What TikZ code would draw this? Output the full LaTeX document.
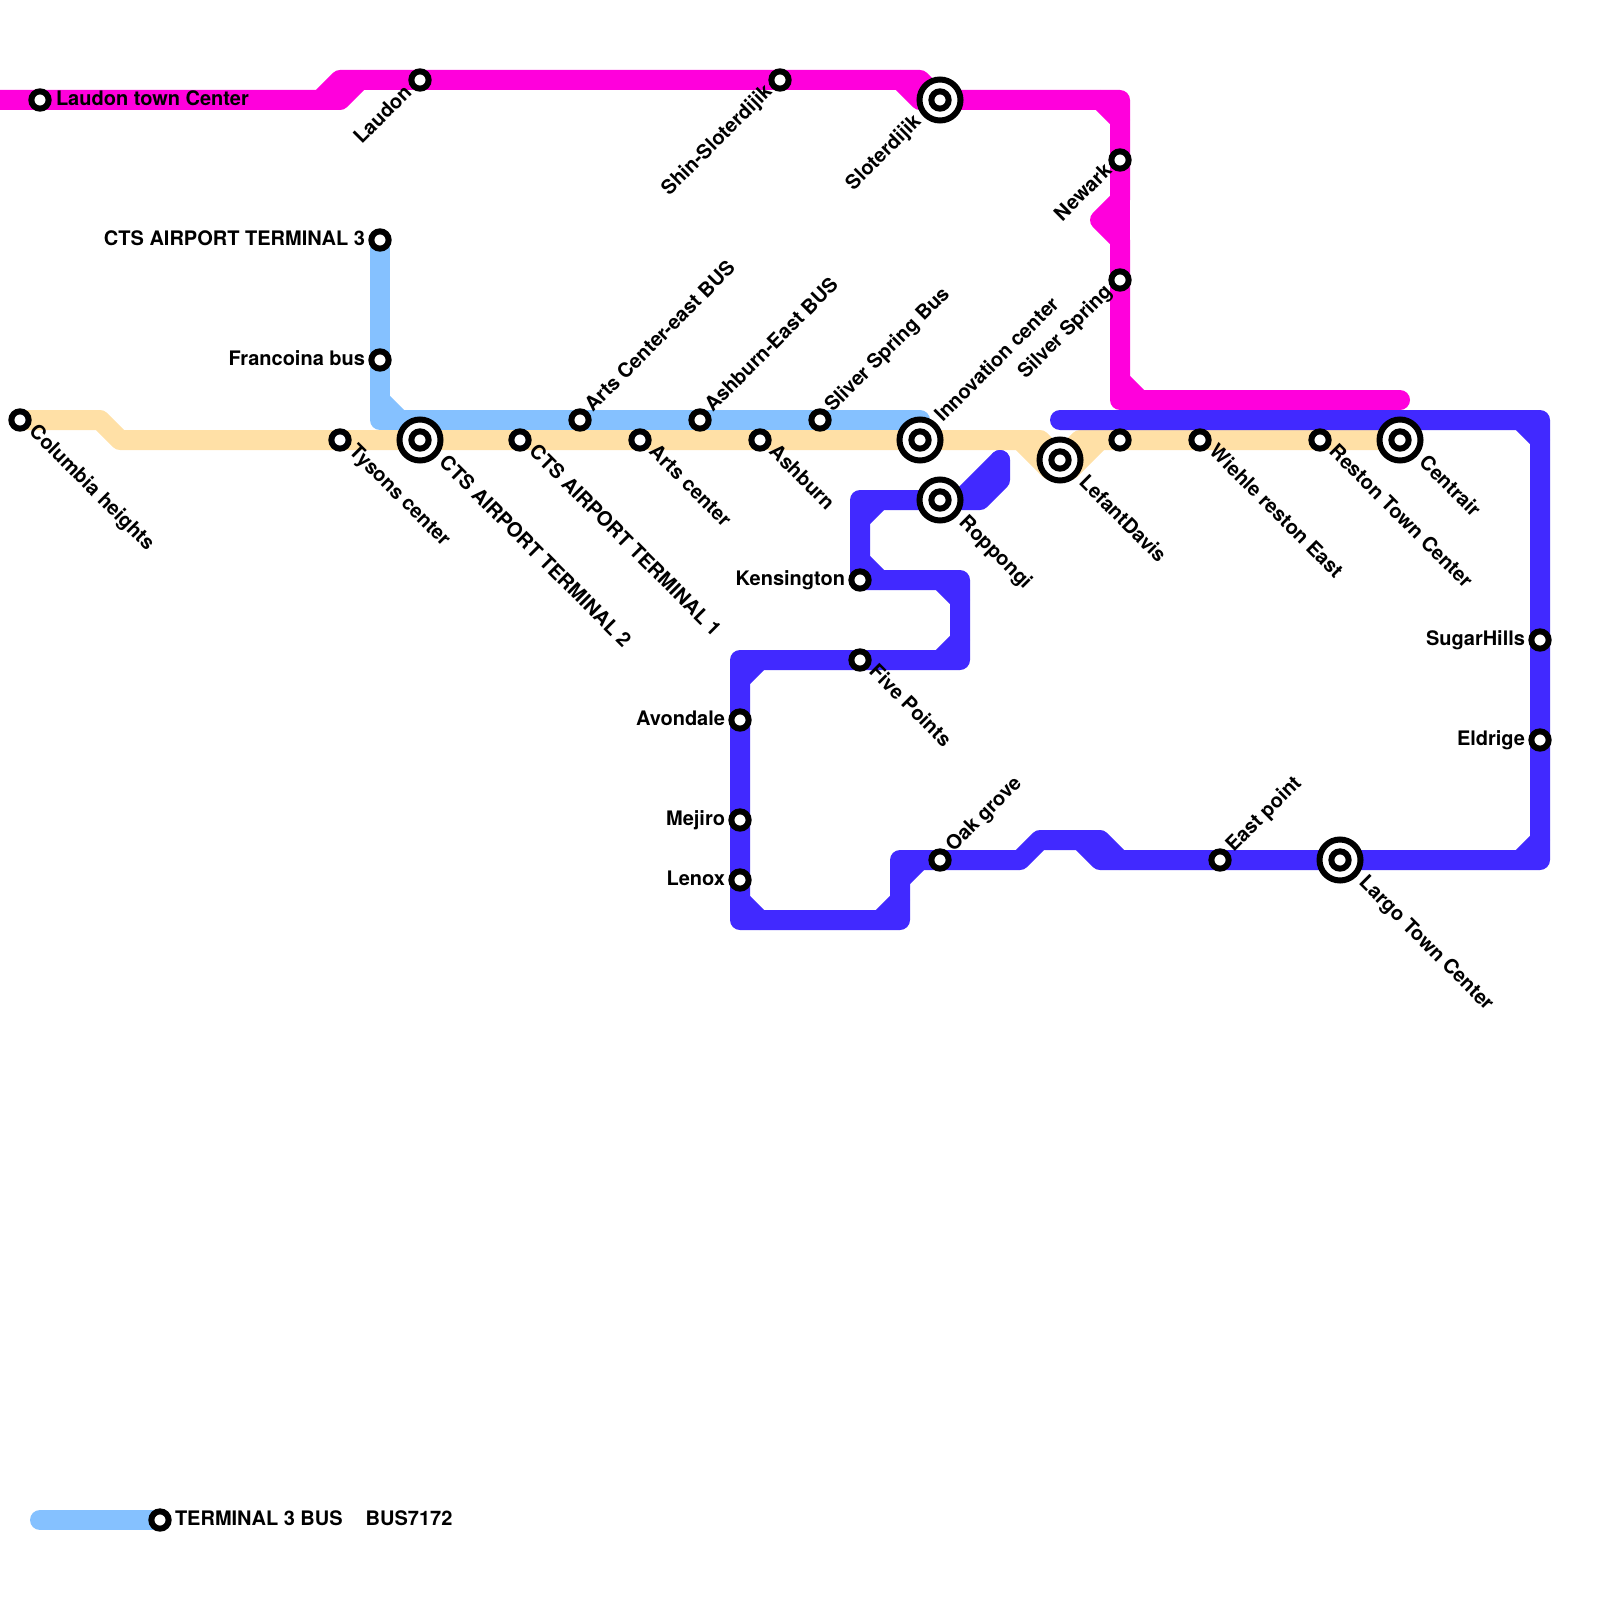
\documentclass[tikz,border=0pt]{standalone}
\usepackage{fontspec}
\setmainfont{TeX Gyre Heros}
\usetikzlibrary{calc}
\pgfdeclarelayer{lines}
\pgfsetlayers{lines,main}
\definecolor{cMag}{HTML}{FF00DC}
\definecolor{cBlue}{HTML}{4129FF}
\definecolor{cSky}{HTML}{85C1FF}
\definecolor{cSand}{HTML}{FFE0A6}
\tikzset{
  x=1pt,y=-1pt,
  metro/.style={line width=20pt,line cap=round,line join=round},
  stop/.style={circle,draw=black,fill=white,line width=6pt,minimum size=17.3pt,inner sep=0pt,outer sep=0pt},
  hub/.style={circle,draw=black,fill=white,line width=6pt,minimum size=41pt,inner sep=0pt,outer sep=0pt},
  lbl/.style={font=\fontsize{20}{20}\selectfont\bfseries,inner sep=0pt,outer sep=0pt,text=black},
  lR/.style={lbl,anchor=mid west},
  lL/.style={lbl,anchor=mid east},
  lDR/.style={lbl,anchor=mid west,rotate=-45},
  lUR/.style={lbl,anchor=mid west,rotate=45},
  lDL/.style={lbl,anchor=mid east,rotate=45},
}
\begin{document}
\begin{tikzpicture}
\useasboundingbox (0,0) rectangle (1600,1600);
% stations
\node[stop] (lt) at (40,100) {};
\node[stop] (lau) at (420,80) {};
\node[stop] (shin) at (780,80) {};
\node[hub] (slo) at (940,100) {}; \node[stop] (sloi) at (slo) {};
\node[stop] (new) at (1120,160) {};
\node[stop] (sil) at (1120,280) {};
\node[stop] (t3) at (380,240) {};
\node[stop] (fra) at (380,360) {};
\node[stop] (col) at (20,420) {};
\node[stop] (tys) at (340,440) {};
\node[hub] (t2) at (420,440) {}; \node[stop] (t2i) at (t2) {};
\node[stop] (t1) at (520,440) {};
\node[stop] (aeb) at (580,420) {};
\node[stop] (art) at (640,440) {};
\node[stop] (aeb2) at (700,420) {};
\node[stop] (ash) at (760,440) {};
\node[stop] (ssb) at (820,420) {};
\node[hub] (inn) at (920,440) {}; \node[stop] (inni) at (inn) {};
\node[hub] (lef) at (1060,460) {}; \node[stop] (lefi) at (lef) {};
\node[stop] (unn) at (1120,440) {};
\node[stop] (wie) at (1200,440) {};
\node[stop] (res) at (1320,440) {};
\node[hub] (cen) at (1400,440) {}; \node[stop] (ceni) at (cen) {};
\node[hub] (rop) at (940,500) {}; \node[stop] (ropi) at (rop) {};
\node[stop] (ken) at (860,580) {};
\node[stop] (fiv) at (860,660) {};
\node[stop] (avo) at (740,720) {};
\node[stop] (mej) at (740,820) {};
\node[stop] (len) at (740,880) {};
\node[stop] (oak) at (940,860) {};
\node[stop] (eas) at (1220,860) {};
\node[hub] (lar) at (1340,860) {}; \node[stop] (lari) at (lar) {};
\node[stop] (sug) at (1540,640) {};
\node[stop] (eld) at (1540,740) {};
\node[stop] (bus) at (160,1520) {};
% labels
\node[lR] (Llt) at (56,103) {Laudon town Center};
\node[lDL] (Llau) at (411,92) {Laudon};
\node[lDL] (Lshin) at (771,91) {Shin-Sloterdijik};
\node[lDL] (Lslo) at (920,121) {Sloterdijik};
\node[lDL] (Lnew) at (1111,170) {Newark};
\node[lDL] (Lsil) at (1111,291) {Silver Spring};
\node[lL] (Lt3) at (365,243) {CTS AIRPORT TERMINAL 3};
\node[lL] (Lfra) at (365,363) {Francoina bus};
\node[lDR] (Lcol) at (30,431) {Columbia heights};
\node[lDR] (Ltys) at (350,451) {Tysons center};
\node[lDR] (Lt2) at (440,462) {CTS AIRPORT TERMINAL 2};
\node[lDR] (Lt1) at (530,451) {CTS AIRPORT TERMINAL 1};
\node[lUR] (Laeb) at (591,411) {Arts Center-east BUS};
\node[lDR] (Lart) at (650,451) {Arts center};
\node[lUR] (Laeb2) at (711,411) {Ashburn-East BUS};
\node[lDR] (Lash) at (770,451) {Ashburn};
\node[lUR] (Lssb) at (831,411) {Sliver Spring Bus};
\node[lUR] (Linn) at (941,421) {Innovation center};
\node[lDR] (Llef) at (1080,482) {LefantDavis};
\node[lDR] (Lwie) at (1210,451) {Wiehle reston East};
\node[lDR] (Lres) at (1330,451) {Reston Town Center};
\node[lDR] (Lcen) at (1420,462) {Centrair};
\node[lDR] (Lrop) at (960,522) {Roppongi};
\node[lL] (Lken) at (845,583) {Kensington};
\node[lDR] (Lfiv) at (870,671) {Five Points};
\node[lL] (Lavo) at (725,723) {Avondale};
\node[lL] (Lmej) at (725,823) {Mejiro};
\node[lL] (Llen) at (725,883) {Lenox};
\node[lUR] (Loak) at (952,851) {Oak grove};
\node[lUR] (Leas) at (1232,851) {East point};
\node[lDR] (Llar) at (1360,882) {Largo Town Center};
\node[lL] (Lsug) at (1525,643) {SugarHills};
\node[lL] (Leld) at (1525,743) {Eldrige};
\node[lR] (Lbus) at (175,1523) {TERMINAL 3 BUS\hspace{23pt}BUS7172};
% way points
\foreach \n/\p in {
 m0/{0,100},m1/{320,100},m1b/{340,100},m2/{340,80},m2b/{360,80},m3/{900,80},m3b/{920,80},m4/{920,100},m4b/{940,100},
 m5/{1120,100},m5a/{1100,100},m5b/{1120,120},m6/{1120,200},m7/{1100,220},m8/{1120,240},m9/{1120,400},m9a/{1120,380},m9b/{1140,400},m10/{1400,400},
 s0/{380,400},s1/{380,420},s1b/{400,420},s2/{920,420},sb0/{40,1520},
 y1/{100,420},y2/{120,440},y3/{1040,440},y3a/{1020,440},y3b/{1050,470},y4/{1080,440},y4a/{1100,440},y4b/{1070,470},
 b0/{1000,460},b1/{1000,480},b2/{980,500},b2a/{960,500},b3/{860,500},b3a/{880,500},b3b/{860,520},b3c/{860,560},b3d/{880,580},
 b4/{960,580},b4a/{940,580},b4b/{960,600},b5/{960,660},b5a/{960,640},b5b/{940,660},
 b6/{740,660},b6a/{760,660},b6b/{740,680},b7/{740,920},b7a/{740,900},b7b/{760,920},b8/{900,920},b8a/{880,920},b8b/{900,900},
 b9/{900,860},b9a/{900,880},b9b/{920,860},b10/{1020,860},b11/{1040,840},b12/{1100,840},b12a/{1080,840},b13/{1120,860},b13a/{1100,860},
 b14/{1540,860},b14a/{1520,860},b14b/{1540,840},b15/{1540,420},b15a/{1540,440},b15b/{1520,420},b16/{1060,420}}
 {\coordinate (\n) at (\p);}
\begin{pgfonlayer}{lines}
% sand line
\draw[metro,cSand] (col.center)--(y1)--(y2)--(tys.center)--(t2.center)--(t1.center)--(art.center)--(ash.center)--(inn.center)--(y3)--(lef.center)--(y4)--(unn.center)--(wie.center)--(res.center)--(cen.center);
\draw[metro,cSand] (y3a)--(y3b);
\draw[metro,cSand] (y4a)--(y4b);
% sky line
\draw[metro,cSky] (t3.center)--(fra.center)--(s1)--(aeb.center)--(aeb2.center)--(ssb.center)--(s2);
\draw[metro,cSky] (s0)--(s1b);
\draw[metro,cSky] (sb0)--(bus.center);
% magenta line
\draw[metro,cMag] (m0)--(lt.center)--(m1)--(m2)--(lau.center)--(shin.center)--(m3)--(m4)--(slo.center)--(m5)--(new.center)--(m6)--(m7)--(m8)--(sil.center)--(m9)--(m10);
\draw[metro,cMag] (m1)--(m1b)--(m2b);
\draw[metro,cMag] (m3)--(m3b)--(m4b);
\draw[metro,cMag] (m6)--(m8);
\draw[metro,cMag] (m5a)--(m5b);
\draw[metro,cMag] (m9a)--(m9b);
% blue line
\draw[metro,cBlue] (b0)--(b1)--(b2)--(rop.center)--(b3)--(ken.center)--(b4)--(b5)--(fiv.center)--(b6)--(avo.center)--(mej.center)--(len.center)--(b7)--(b8)--(b9)--(oak.center)--(b10)--(b11)--(b12)--(b13)--(eas.center)--(lar.center)--(b14)--(eld.center)--(sug.center)--(b15)--(b16);
\draw[metro,cBlue] (b0)--(b2a);
\draw[metro,cBlue] (b3a)--(b3b);
\draw[metro,cBlue] (b3c)--(b3d);
\draw[metro,cBlue] (b4a)--(b4b);
\draw[metro,cBlue] (b5a)--(b5b);
\draw[metro,cBlue] (b6a)--(b6b);
\draw[metro,cBlue] (b7a)--(b7b);
\draw[metro,cBlue] (b8a)--(b8b);
\draw[metro,cBlue] (b9a)--(b9b);
\draw[metro,cBlue] (b12a)--(b13a)--(b13);
\draw[metro,cBlue] (b14a)--(b14b);
\draw[metro,cBlue] (b15a)--(b15b);
\end{pgfonlayer}
\end{tikzpicture}
\end{document}
